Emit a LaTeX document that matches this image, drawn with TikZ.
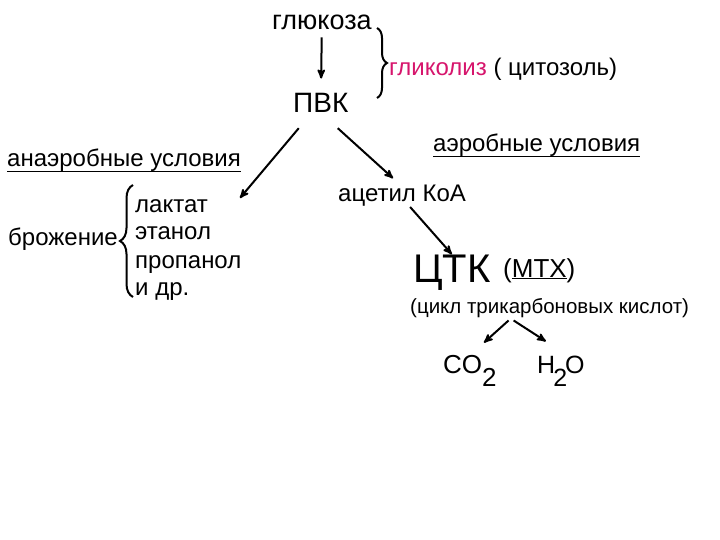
\documentclass[tikz,border=0pt]{standalone}
\usepackage{fontspec}
\setmainfont{Liberation Sans}
\usetikzlibrary{positioning}
\usetikzlibrary{arrows}
\usetikzlibrary{decorations.pathreplacing}
\definecolor{glyco-red}{HTML}{D6156C}
\tikzset{
  term/.style={anchor=base west, inner sep=0pt, font=\fontsize{#1}{#1}\selectfont},
  term/.default=24,
  flow-path/.style={line width=2pt, ->, >=stealth'},
  brace-path/.style={decorate, decoration={brace, amplitude=#1}, line width=2pt},
  under-path/.style={line width=1pt},
}

\begin{document}
\begin{tikzpicture}[x=1pt, y=-1pt]
\useasboundingbox (0,0) rectangle (720,540);
\node[term=27] at (272, 30) (glucose) {глюкоза};
\node[term] at (389, 76) (glycolysis) {\textcolor{glyco-red}{гликолиз} ( цитозоль)};
\node[term=28] at (293, 113) (pvk) {ПВК}
  edge [flow-path, <-, shorten <=15pt, shorten >=7pt] (glucose);
\draw[brace-path=10pt] (377, 28) -- (377, 98);

% anaerobic branch
\node[term] at (7, 167) (anaerobic) {анаэробные условия};
\draw[under-path] ([yshift=-5pt]anaerobic.base west) -- ([yshift=-5pt]anaerobic.base east);
\coordinate (anaerobic tip) at (240, 198);
\draw[flow-path] ([xshift=-22pt, yshift=-15pt]pvk.south) -- (anaerobic tip);
\node[term] at (8, 245) (fermentation) {брожение};
\draw[brace-path=13pt] (133, 297) -- (133, 185);
\node[term] at (135, 212) (lactate) {лактат};
\node[term] at (135, 240) (ethanol) {этанол};
\node[term] at (135, 268) (propanol) {пропанол};
\node[term] at (135, 295) (others) {и др.};

% aerobic branch
\node[term] at (433, 152) (aerobic) {аэробные условия};
\draw[under-path] ([yshift=-5pt]aerobic.base west) -- ([yshift=-5pt]aerobic.base east);
\node[term] at (338, 202) (acetyl) {ацетил КоА};
\draw[flow-path] ([xshift=17pt, yshift=-15pt]pvk.south) -- ([xshift=-9pt, yshift=7pt]acetyl.north);
\node[term=40] at (413, 282) (tca) {ЦТК};
\draw[flow-path] ([xshift=8pt]acetyl.south) -- (tca.north);
\node[term=26] at (503, 277) (mito) {(\underline{МТХ})};
\node[term=20.5] at (410, 313) (tca cycle) {(цикл трикарбоновых кислот)};
\node[term=26] at (443, 373) (co2) {CO\raisebox{-13pt}{2}};
\node[term=25] at (537, 373) (h2o) {H\kern-2pt\raisebox{-13pt}{2}\kern-2pt O};
\draw[flow-path] ([xshift=-41pt, yshift=-3pt]tca cycle.south) -- ([xshift=14pt, yshift=12pt]co2.north);
\draw[flow-path] ([xshift=-36pt, yshift=-3pt]tca cycle.south) -- ([xshift=-15pt, yshift=14pt]h2o.north);
\end{tikzpicture}
\end{document}
